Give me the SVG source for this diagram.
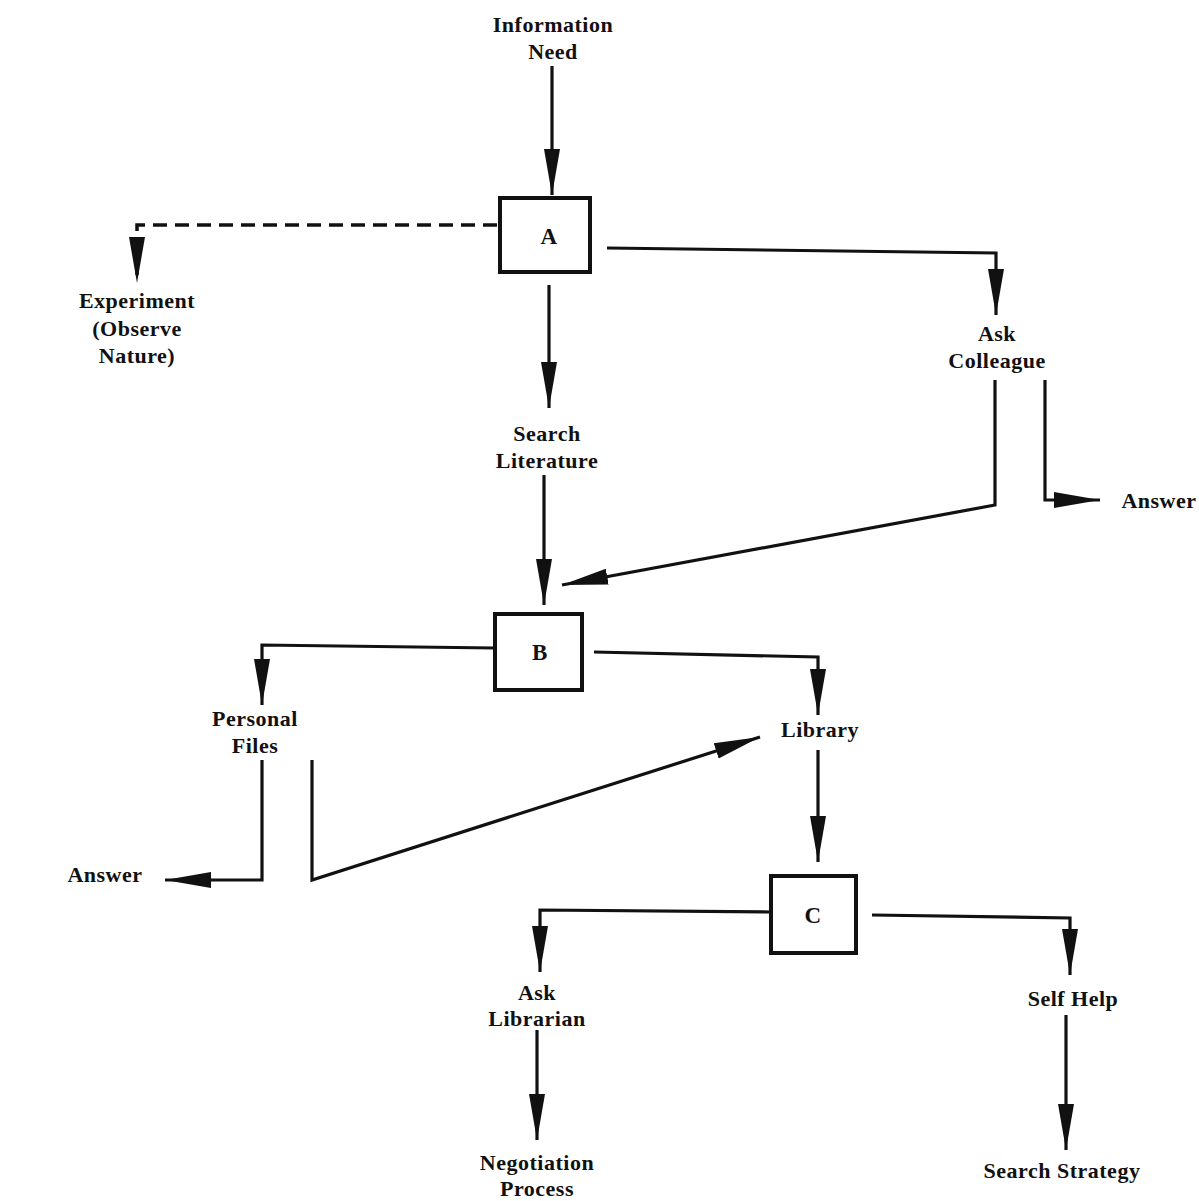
<svg xmlns="http://www.w3.org/2000/svg" width="1199" height="1201" viewBox="0 0 1199 1201">
<style>
text{font-family:"Liberation Serif","Times New Roman",serif;font-weight:bold;font-size:22px;letter-spacing:0.5px;fill:#111;text-anchor:middle}
.box{fill:#fff;stroke:#111;stroke-width:4}
.ln{fill:none;stroke:#111;stroke-width:3.2;marker-end:url(#ah)}
.dash{fill:none;stroke:#111;stroke-width:3.5;stroke-dasharray:14,8;marker-end:url(#ah)}
.big{font-size:23px}
</style>
<defs>
<marker id="ah" markerUnits="userSpaceOnUse" markerWidth="48" markerHeight="18" refX="46" refY="9" orient="auto">
<path d="M0,1 L46,9 L0,17 Z" fill="#111"/>
</marker>
</defs>
<rect width="1199" height="1201" fill="#fff"/>
<g id="connectors">
<path class="ln" d="M552,66 V195"/>
<path class="dash" d="M497,225 H137 V283"/>
<path class="ln" d="M607,248 L996,253 V315"/>
<path class="ln" d="M549,285 V408"/>
<path class="ln" d="M995,380 V505 L562,585"/>
<path class="ln" d="M1045,380 V500 H1100"/>
<path class="ln" d="M544,475 V605"/>
<path class="ln" d="M494,648 L262,645 V705"/>
<path class="ln" d="M594,652 L818,657 V715"/>
<path class="ln" d="M262,760 V880 H165"/>
<path class="ln" d="M312,760 V880 L760,737"/>
<path class="ln" d="M818,750 V862"/>
<path class="ln" d="M770,912 L540,910 V972"/>
<path class="ln" d="M872,915 L1070,918 V975"/>
<path class="ln" d="M537,1030 V1140"/>
<path class="ln" d="M1066,1015 V1150"/>
</g>
<g id="info-need"><text x="553" y="32">Information</text><text x="553" y="59">Need</text></g>
<g id="A"><rect class="box" x="500" y="198" width="90" height="74"/><text class="big" x="549" y="244">A</text></g>
<g id="experiment"><text x="137" y="308">Experiment</text><text x="137" y="336">(Observe</text><text x="137" y="363">Nature)</text></g>
<g id="search-literature"><text x="547" y="441">Search</text><text x="547" y="468">Literature</text></g>
<g id="ask-colleague"><text x="997" y="341">Ask</text><text x="997" y="368">Colleague</text></g>
<g id="answer1"><text x="1159" y="508">Answer</text></g>
<g id="B"><rect class="box" x="495" y="614" width="87" height="76"/><text class="big" x="540" y="660">B</text></g>
<g id="personal-files"><text x="255" y="726">Personal</text><text x="255" y="753">Files</text></g>
<g id="library"><text x="820" y="737">Library</text></g>
<g id="answer2"><text x="105" y="882">Answer</text></g>
<g id="C"><rect class="box" x="771" y="876" width="85" height="77"/><text class="big" x="813" y="923">C</text></g>
<g id="ask-librarian"><text x="537" y="1000">Ask</text><text x="537" y="1026">Librarian</text></g>
<g id="self-help"><text x="1073" y="1006">Self Help</text></g>
<g id="negotiation"><text x="537" y="1170">Negotiation</text><text x="537" y="1196">Process</text></g>
<g id="search-strategy"><text x="1062" y="1178">Search Strategy</text></g>
</svg>
